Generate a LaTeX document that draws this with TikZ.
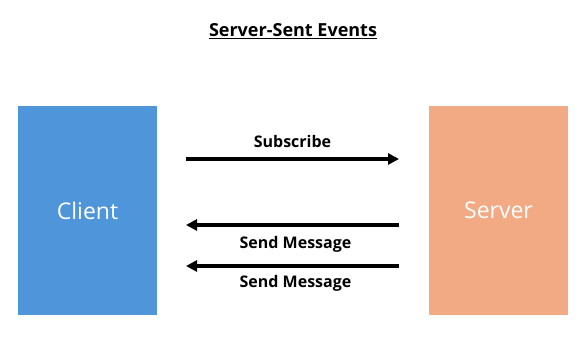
\documentclass[tikz,border=0pt]{standalone}
\usepackage{fontspec}
\setmainfont{Open Sans}
\usetikzlibrary{positioning,arrows.meta}
\definecolor{clientblue}{HTML}{4F95DA}
\definecolor{serverpeach}{HTML}{F2AA84}
\tikzset{
  party/.style ={minimum width=139pt, minimum height=209pt, inner sep=0pt,
                 text=white, font=\fontsize{23}{27}\selectfont},
  msg/.style   ={-{Triangle[length=11pt,width=11pt]}, line width=3.5pt, draw=black},
  lbl/.style   ={font=\bfseries\fontsize{16}{18}\selectfont, inner sep=0pt},
  ttl/.style   ={font=\bfseries\fontsize{18}{20}\selectfont, inner sep=0pt}
}
\begin{document}
\begin{tikzpicture}[x=1pt,y=-1pt]
\useasboundingbox (0,0) rectangle (588,339);
% title
\node[ttl] (title) at (293,31) {\underline{Server-Sent Events}};
% the two parties
\node[party, fill=clientblue] (client) at (87.5,210.5) {Client};
\node[party, fill=serverpeach] (server) at (498.5,210.5) {Server};
% connectors
\coordinate (suba) at (186,159);
\coordinate (subb) at (399,159);
\coordinate (msgaa) at (399,225);
\coordinate (msgab) at (186,225);
\coordinate (msgba) at (399,266);
\coordinate (msgbb) at (186,266);
\draw[msg] (suba) -- (subb);
\draw[msg] (msgaa) -- (msgab);
\draw[msg] (msgba) -- (msgbb);
\node[lbl] (sublbl) at (292.5,141) {Subscribe};
\node[lbl] (msgalbl) at (295.5,244) {Send Message};
\node[lbl] (msgblbl) at (295.5,283) {Send Message};
\end{tikzpicture}
\end{document}
